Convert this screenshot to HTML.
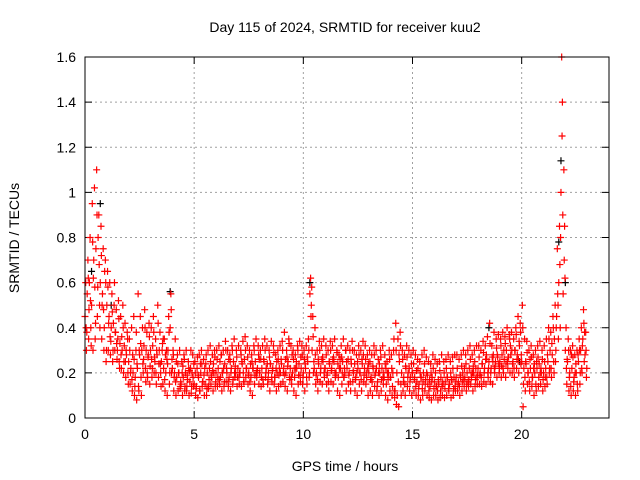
<!DOCTYPE html>
<html><head><meta charset="utf-8"><style>
body{margin:0;background:#fff;}
svg{display:block;font-family:"Liberation Sans",sans-serif;}
</style></head><body>
<svg id="chart" width="640" height="480" viewBox="0 0 640 480" xmlns="http://www.w3.org/2000/svg">
<rect width="640" height="480" fill="#fff"/>
<text x="345" y="32" font-size="14" text-anchor="middle">Day 115 of 2024, SRMTID for receiver kuu2</text>
<text x="0" y="0" font-size="14" text-anchor="middle" transform="translate(19,238) rotate(-90)">SRMTID / TECUs</text>
<text x="345" y="471" font-size="14" text-anchor="middle">GPS time / hours</text>
<g id="grid"></g><g id="ticks"></g><g id="marks"></g>
<rect x="85" y="57" width="524" height="361" fill="none" stroke="#000" stroke-width="1"/>
</svg>
<script>
const xTicks=[0,5,10,15,20];
const yTicks=[0,0.2,0.4,0.6,0.8,1,1.2,1.4,1.6];
const yTickLabels=["0","0.2","0.4","0.6","0.8","1","1.2","1.4","1.6"];
const seriesA=[.45,.55,.6,.5,.7,.75,.8,.6,.55,.65,.5,.45,.4,.42,.38,.35,.33,.3,.32,.28,.25,.22,.2,.18,.22,.28,.3,.32,.3,.28,.3,.32,.25,.28,.3,.25,.22,.2,.3,.4,.22,.2,.18,.2,.15,.18,.2,.17,.16,.2,.15,.14,.18,.2,.16,.15,.2,.22,.18,.2,.2,.22,.18,.2,.24,.2,.18,.22,.25,.2,.22,.2,.24,.26,.22,.2,.18,.22,.25,.22,.2,.22,.25,.22,.2,.24,.22,.18,.2,.22,.24,.22,.2,.25,.22,.2,.18,.22,.24,.22,.2,.22,.25,.55,.3,.22,.2,.24,.22,.25,.22,.2,.24,.22,.25,.2,.18,.22,.25,.2,.22,.2,.24,.2,.18,.22,.2,.24,.22,.18,.2,.18,.22,.2,.16,.2,.22,.18,.15,.2,.18,.2,.12,.1,.25,.2,.18,.22,.2,.18,.2,.18,.16,.15,.18,.2,.17,.15,.14,.18,.16,.14,.15,.18,.15,.16,.18,.15,.17,.18,.18,.16,.18,.2,.18,.2,.22,.18,.2,.22,.22,.2,.24,.22,.26,.25,.22,.28,.25,.27,.25,.28,.26,.3,.27,.28,.25,.3,.28,.32,.25,.22,.24,.2,.22,.18,.2,.22,.24,.2,.2,.22,.25,.3,.28,.35,.45,.6,1.0,.55,.3,.25,.2,.22,.18,.2,.25,.3,.35,.28];
const seriesB=[.6,.7,.8,.95,1.02,1.1,.9,.85,.75,.7,.65,.6,.55,.5,.48,.52,.45,.5,.42,.38,.35,.4,.45,.3,.55,.45,.4,.48,.38,.42,.4,.45,.35,.5,.38,.3,.35,.3,.45,.55,.3,.35,.28,.3,.25,.28,.3,.25,.22,.28,.25,.22,.28,.3,.26,.24,.3,.32,.28,.3,.3,.32,.28,.3,.34,.3,.28,.32,.35,.3,.32,.3,.34,.36,.32,.3,.28,.32,.35,.32,.3,.32,.35,.32,.3,.34,.32,.28,.3,.32,.34,.38,.3,.35,.32,.3,.28,.32,.34,.32,.3,.32,.35,.62,.45,.4,.3,.34,.32,.35,.32,.3,.34,.32,.35,.3,.28,.32,.35,.3,.32,.3,.34,.3,.28,.32,.3,.34,.32,.28,.3,.28,.32,.3,.26,.3,.32,.28,.25,.3,.28,.3,.42,.35,.38,.3,.28,.32,.3,.28,.3,.28,.26,.25,.28,.3,.27,.25,.24,.28,.26,.24,.25,.28,.25,.26,.28,.25,.27,.28,.28,.26,.28,.3,.28,.3,.32,.28,.3,.32,.32,.3,.34,.32,.36,.42,.32,.38,.35,.37,.35,.38,.36,.4,.37,.38,.35,.4,.45,.42,.5,.35,.34,.3,.32,.28,.3,.32,.34,.3,.32,.35,.4,.38,.45,.5,.75,.85,1.6,1.1,.4,.35,.3,.32,.28,.3,.35,.4,.48,.38];
const seriesC=[.3,.35,.4,.3,.35,.45,.5,.35,.3,.25,.3,.28,.25,.3,.26,.25,.22,.2,.18,.2,.15,.12,.1,.08,.12,.18,.2,.22,.18,.15,.18,.2,.15,.18,.2,.15,.12,.1,.15,.2,.12,.1,.12,.14,.1,.12,.14,.1,.11,.14,.1,.09,.12,.14,.1,.1,.14,.15,.12,.14,.14,.15,.12,.14,.16,.14,.12,.15,.18,.14,.15,.14,.16,.18,.15,.12,.1,.15,.18,.15,.14,.15,.18,.15,.12,.16,.15,.12,.14,.15,.16,.14,.12,.18,.15,.12,.1,.15,.16,.15,.12,.15,.18,.5,.2,.15,.12,.16,.15,.18,.15,.12,.16,.15,.18,.12,.1,.15,.18,.12,.15,.12,.16,.12,.1,.15,.12,.16,.15,.1,.12,.1,.14,.12,.1,.12,.15,.1,.08,.12,.1,.12,.06,.05,.15,.12,.1,.14,.12,.1,.12,.1,.1,.08,.1,.12,.1,.09,.08,.1,.1,.08,.09,.1,.09,.1,.12,.09,.1,.12,.12,.1,.12,.14,.12,.14,.15,.12,.14,.15,.15,.14,.16,.15,.18,.16,.15,.2,.18,.2,.18,.2,.18,.22,.2,.2,.18,.22,.2,.24,.05,.12,.15,.12,.14,.1,.12,.14,.15,.12,.14,.15,.2,.18,.25,.3,.5,.4,1.4,.85,.15,.12,.1,.12,.1,.12,.15,.2,.25,.18];
const seriesD=[.4,.62,.52,.78,.58,.9,.68,.72,.48,.6,.58,.36,.47,.6,.33,.44,.28,.4,.25,.35,.3,.17,.26,.38,.14,.33,.24,.4,.2,.36,.26,.38,.2,.42,.24,.33,.17,.26,.38,.48,.28,.16,.24,.13,.2,.26,.12,.22,.3,.18,.2,.27,.12,.24,.19,.28,.13,.25,.21,.27,.26,.17,.28,.22,.3,.16,.25,.3,.2,.27,.18,.28,.2,.3,.27,.16,.25,.3,.2,.28,.26,.17,.3,.24,.27,.18,.29,.22,.26,.2,.3,.19,.27,.33,.18,.26,.22,.3,.19,.28,.26,.18,.3,.45,.36,.28,.17,.3,.26,.2,.28,.16,.3,.26,.2,.29,.22,.27,.18,.3,.26,.16,.3,.24,.2,.28,.17,.28,.26,.22,.25,.16,.28,.22,.2,.27,.18,.24,.2,.26,.22,.35,.3,.16,.32,.26,.15,.27,.22,.24,.24,.14,.22,.2,.13,.24,.2,.12,.2,.22,.2,.12,.21,.14,.2,.22,.13,.2,.22,.14,.22,.14,.23,.17,.24,.16,.26,.2,.25,.18,.27,.18,.29,.26,.2,.33,.27,.22,.31,.24,.32,.22,.33,.25,.35,.3,.22,.37,.26,.38,.4,.18,.29,.16,.27,.22,.15,.27,.2,.26,.25,.18,.35,.22,.4,.25,.55,.68,1.25,.7,.22,.3,.14,.27,.2,.15,.3,.22,.42,.3];
const seriesE=[.38,.48,.32,.62,.42,.58,.4,.5,.4,.3,.42,.34,.3,.38,.3,.22,.36,.25,.3,.15,.2,.28,.14,.24,.3,.1,.26,.16,.27,.23,.22,.27,.3,.24,.14,.35,.28,.24,.2,.26,.18,.25,.2,.16,.23,.14,.19,.21,.14,.24,.13,.19,.24,.16,.22,.13,.17,.19,.24,.16,.18,.25,.2,.16,.22,.26,.2,.17,.23,.18,.2,.25,.16,.22,.19,.24,.22,.19,.21,.26,.18,.26,.2,.17,.24,.21,.18,.25,.19,.26,.2,.26,.23,.17,.28,.22,.25,.19,.27,.18,.24,.27,.2,.58,.25,.19,.26,.2,.27,.22,.19,.25,.21,.27,.19,.24,.26,.2,.22,.25,.19,.26,.21,.17,.25,.2,.26,.19,.2,.24,.17,.23,.19,.14,.24,.17,.2,.22,.17,.18,.14,.09,.2,.28,.1,.16,.23,.18,.16,.2,.17,.21,.13,.18,.16,.15,.19,.17,.16,.13,.14,.17,.12,.16,.13,.18,.15,.17,.13,.16,.15,.19,.16,.22,.15,.17,.2,.23,.17,.19,.19,.24,.2,.28,.22,.2,.25,.23,.28,.22,.23,.3,.24,.27,.32,.24,.3,.26,.34,.28,.15,.25,.2,.26,.18,.24,.25,.18,.22,.17,.18,.28,.22,.33,.2,.4,.35,.8,.9,.62,.26,.18,.28,.16,.24,.28,.2,.32,.38,.22];
const seriesOffsets=[0,0.033,0.066,0.05,0.083];
const blackHours=[0.3,0.7,3.9,10.3,18.5,21.7,21.8,22.0,19.9,1.2];
const blackVals=[0.65,0.95,0.56,0.6,0.4,0.78,1.14,0.6,0.25,0.5];
const X0=85,X1=609,Y0=418,Y1=57,XMAX=24,YMAX=1.6,STEP=0.1;
const xs=v=>X0+(X1-X0)*v/XMAX;
const ys=v=>Y0-(Y0-Y1)*v/YMAX;
const NS="http://www.w3.org/2000/svg";
function mk(tag,attrs,parent){const e=document.createElementNS(NS,tag);for(const k in attrs)e.setAttribute(k,attrs[k]);parent.appendChild(e);return e;}
const grid=document.getElementById('grid'),ticks=document.getElementById('ticks'),marks=document.getElementById('marks');
xTicks.forEach(t=>{const x=xs(t);
 if(t>0){const g=mk('line',{x1:x,x2:x,y1:Y1,y2:Y0,stroke:'#a0a0a0','stroke-dasharray':'2,3'},grid);
 
 }
 mk('line',{x1:x,x2:x,y1:Y0,y2:Y0-7,stroke:'#000'},ticks);
 mk('line',{x1:x,x2:x,y1:Y1,y2:Y1+7,stroke:'#000'},ticks);
 const l=mk('text',{x:x,y:Y0+21,'font-size':14,'text-anchor':'middle'},ticks);l.textContent=t;
 
 
});
yTicks.forEach((t,i)=>{const y=ys(t);
 if(t>0&&t<YMAX){const g=mk('line',{x1:X0,x2:X1,y1:y,y2:y,stroke:'#a0a0a0','stroke-dasharray':'2,3'},grid);
 
 }
 mk('line',{x1:X0,x2:X0+7,y1:y,y2:y,stroke:'#000'},ticks);
 mk('line',{x1:X1,x2:X1-7,y1:y,y2:y,stroke:'#000'},ticks);
 const l=mk('text',{x:X0-9,y:y+5,'font-size':14,'text-anchor':'end'},ticks);l.textContent=yTickLabels[i];
 
 
});
function plus(h,v,color,name){const x=xs(h),y=ys(v);
 const p=mk('path',{d:`M${x-3.5},${y}H${x+3.5}M${x},${y-3.5}V${y+3.5}`,stroke:color,'stroke-width':1.2,fill:'none'},marks);
 
 
}
blackHours.forEach((h,i)=>plus(h,blackVals[i],'#000','black-point'));
[seriesA,seriesB,seriesC,seriesD,seriesE].forEach((s,si)=>s.forEach((v,i)=>plus(i*STEP+seriesOffsets[si],v,'#ff0000','srmtid-point')));
</script>
</body></html>
